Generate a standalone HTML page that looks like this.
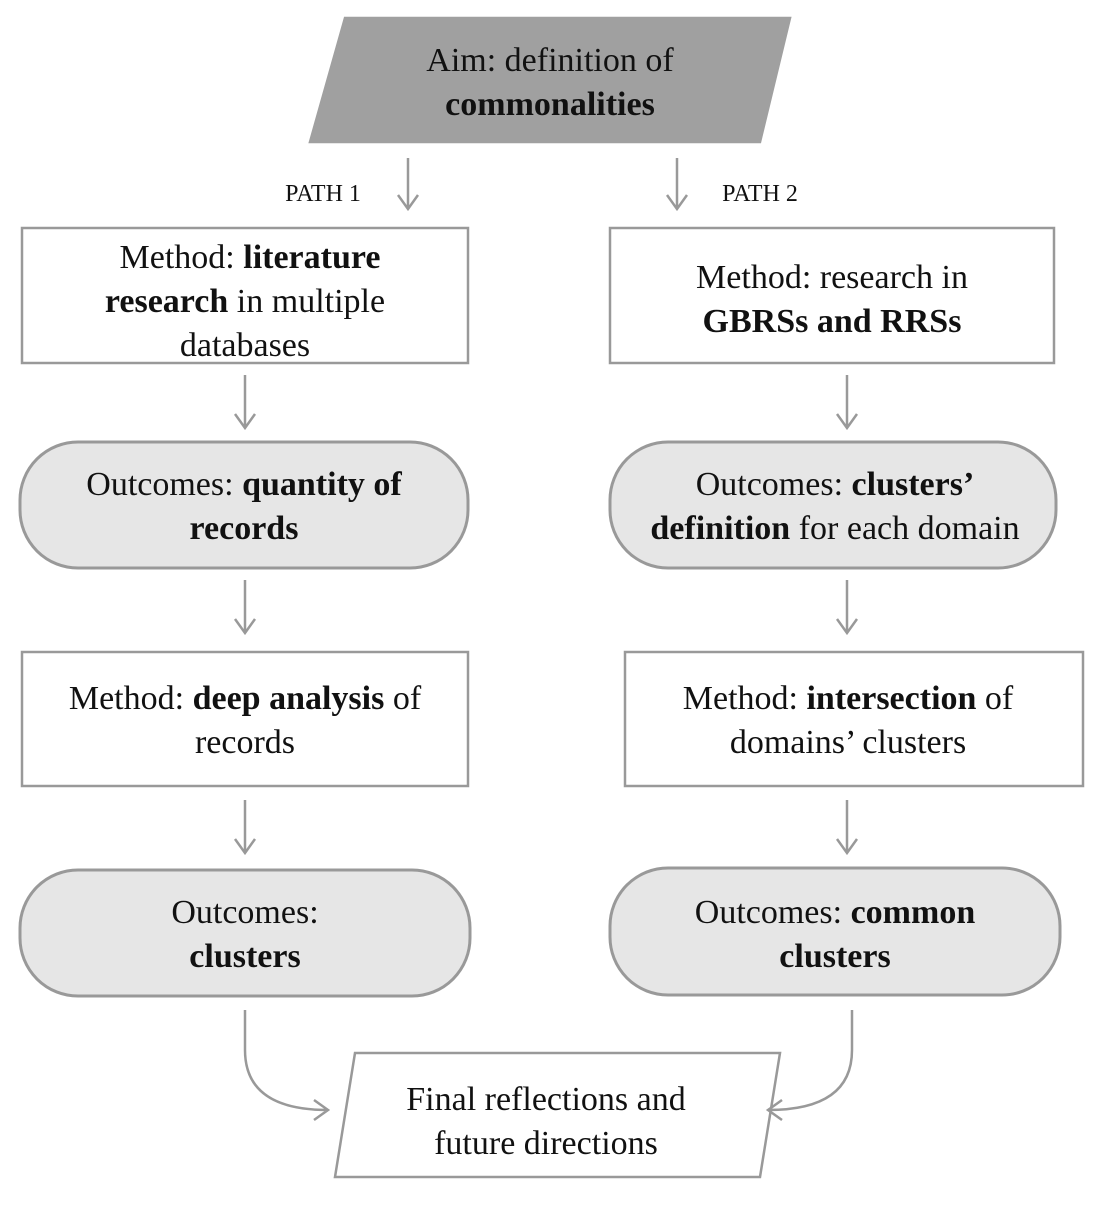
<!DOCTYPE html>
<html><head><meta charset="utf-8"><style>
body{margin:0;background:#fff;}
svg text{font-family:"Liberation Serif",serif;font-size:34px;fill:#111;}
.b{font-weight:bold;}
</style></head><body>
<svg width="1096" height="1200" viewBox="0 0 1096 1200" xmlns="http://www.w3.org/2000/svg">
<defs>
<marker id="a" markerWidth="20" markerHeight="20" refX="10" refY="18" orient="auto" markerUnits="userSpaceOnUse">
</marker>
</defs>
<g fill="none" stroke="#999" stroke-width="2.5">
<polygon points="345,18 790,18 760,142 310,142" fill="#a0a0a0" stroke="#a0a0a0"/>
<rect x="22" y="228" width="446" height="135" fill="#fff"/>
<rect x="610" y="228" width="444" height="135" fill="#fff"/>
<rect x="20" y="442" width="448" height="126" rx="58" fill="#e6e6e6" stroke-width="3"/>
<rect x="610" y="442" width="446" height="126" rx="58" fill="#e6e6e6" stroke-width="3"/>
<rect x="22" y="652" width="446" height="134" fill="#fff"/>
<rect x="625" y="652" width="458" height="134" fill="#fff"/>
<rect x="20" y="870" width="450" height="126" rx="58" fill="#e6e6e6" stroke-width="3"/>
<rect x="610" y="868" width="450" height="127" rx="58" fill="#e6e6e6" stroke-width="3"/>
<polygon points="355,1053 780,1053 760,1177 335,1177" fill="#fff"/>
<!-- arrows -->
<path d="M408,158 V209 M398,195 L408,209 L418,195"/>
<path d="M677,158 V209 M667,195 L677,209 L687,195"/>
<path d="M245,375 V428 M235,414 L245,428 L255,414"/>
<path d="M847,375 V428 M837,414 L847,428 L857,414"/>
<path d="M245,580 V633 M235,619 L245,633 L255,619"/>
<path d="M847,580 V633 M837,619 L847,633 L857,619"/>
<path d="M245,800 V853 M235,839 L245,853 L255,839"/>
<path d="M847,800 V853 M837,839 L847,853 L857,839"/>
<path d="M245,1010 V1050 Q245,1110 328,1110 M314,1100 L328,1110 L314,1120"/>
<path d="M852,1010 V1050 Q852,1110 768,1110 M782,1100 L768,1110 L782,1120"/>
</g>
<g text-anchor="middle">
<text x="550" y="71">Aim: definition of</text>
<text x="550" y="115" class="b">commonalities</text>
<text x="323" y="201" style="font-size:24px">PATH 1</text>
<text x="760" y="201" style="font-size:24px">PATH 2</text>
<text x="250" y="268">Method: <tspan class="b">literature</tspan></text>
<text x="245" y="312"><tspan class="b">research</tspan> in multiple</text>
<text x="245" y="356">databases</text>
<text x="832" y="288">Method: research in</text>
<text x="832" y="332" class="b">GBRSs and RRSs</text>
<text x="244" y="495">Outcomes: <tspan class="b">quantity of</tspan></text>
<text x="244" y="539" class="b">records</text>
<text x="835" y="495">Outcomes: <tspan class="b">clusters’</tspan></text>
<text x="835" y="539"><tspan class="b">definition</tspan> for each domain</text>
<text x="245" y="709">Method: <tspan class="b">deep analysis</tspan> of</text>
<text x="245" y="753">records</text>
<text x="848" y="709">Method: <tspan class="b">intersection</tspan> of</text>
<text x="848" y="753">domains’ clusters</text>
<text x="245" y="923">Outcomes:</text>
<text x="245" y="967" class="b">clusters</text>
<text x="835" y="923">Outcomes: <tspan class="b">common</tspan></text>
<text x="835" y="967" class="b">clusters</text>
<text x="546" y="1110">Final reflections and</text>
<text x="546" y="1154">future directions</text>
</g>
</svg>
</body></html>
